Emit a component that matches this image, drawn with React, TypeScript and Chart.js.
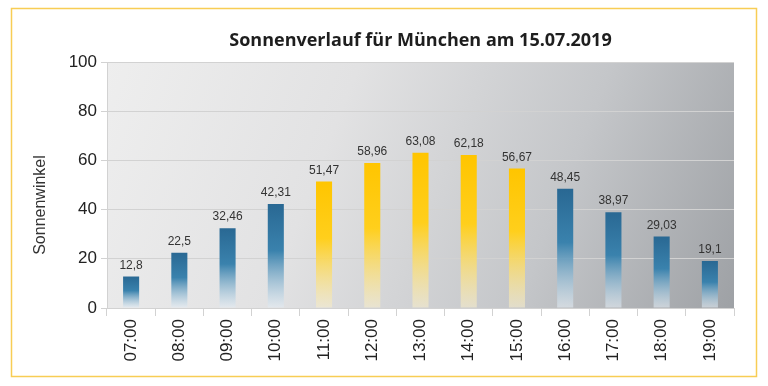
import React, { useEffect, useRef } from "react";
import { Chart, registerables } from "chart.js";

Chart.register(...registerables);

const categories = ["07:00", "08:00", "09:00", "10:00", "11:00", "12:00", "13:00", "14:00", "15:00", "16:00", "17:00", "18:00", "19:00"];
const sunAngles = [12.8, 22.5, 32.46, 42.31, 51.47, 58.96, 63.08, 62.18, 56.67, 48.45, 38.97, 29.03, 19.1];
const highlighted = [false, false, false, false, true, true, true, true, true, false, false, false, false];
const yTicks = [0, 20, 40, 60, 80, 100];
const titleText = "Sonnenverlauf für München am 15.07.2019";
const yAxisTitle = "Sonnenwinkel";

const FONT = "'Liberation Sans', Arial, sans-serif";

export default function App() {
  const ref = useRef<HTMLCanvasElement | null>(null);

  useEffect(() => {
    if (!ref.current) return;

    const bgPlugin = {
      id: "bgPlugin",
      beforeDraw(chart: any) {
        const { ctx, chartArea: a } = chart;
        ctx.save();
        ctx.fillStyle = "#ffffff";
        ctx.fillRect(0, 0, chart.width, chart.height);
        const g = ctx.createLinearGradient(a.left, a.top, a.right, a.bottom);
        g.addColorStop(0, "#eeeeee");
        g.addColorStop(0.35, "#e2e2e3");
        g.addColorStop(0.7, "#c4c6c9");
        g.addColorStop(1, "#9ea1a5");
        ctx.fillStyle = g;
        ctx.fillRect(a.left, a.top, a.right - a.left, a.bottom - a.top);
        ctx.restore();
      },
      afterDraw(chart: any) {
        const { ctx, chartArea: a } = chart;
        ctx.save();
        // frame
        ctx.strokeStyle = "#f8cd55";
        ctx.lineWidth = 1.5;
        ctx.strokeRect(11.5, 8.5, 745, 368);
        // title
        ctx.fillStyle = "#1e1e1e";
        ctx.font = "bold 18px 'Open Sans', 'Noto Sans', sans-serif";
        ctx.textAlign = "center";
        ctx.textBaseline = "middle";
        ctx.fillText(titleText, (a.left + a.right) / 2, 41);
        // y axis title
        ctx.translate(41, 205);
        ctx.rotate(-Math.PI / 2);
        ctx.font = "16px " + FONT;
        ctx.fillStyle = "#333333";
        ctx.fillText(yAxisTitle, 0, 0);
        ctx.restore();
      },
      afterDatasetsDraw(chart: any) {
        const { ctx } = chart;
        const meta = chart.getDatasetMeta(0);
        ctx.save();
        ctx.font = "12px " + FONT;
        ctx.fillStyle = "#333333";
        ctx.textAlign = "center";
        ctx.textBaseline = "bottom";
        meta.data.forEach((bar: any, i: number) => {
          ctx.fillText(String(sunAngles[i]).replace(".", ","), bar.x, bar.y - 5);
        });
        ctx.restore();
      },
    };

    const chart = new Chart(ref.current, {
      type: "bar",
      data: {
        labels: categories,
        datasets: [
          {
            data: sunAngles,
            barPercentage: 0.333,
            categoryPercentage: 1,
            borderWidth: 0,
            backgroundColor: (c: any) => {
              const ch = c.chart;
              const i = c.dataIndex;
              const yel = highlighted[i];
              if (!ch.chartArea || i === undefined) return yel ? "#ffc800" : "#2b6c97";
              const ys = ch.scales.y;
              const top = ys.getPixelForValue(sunAngles[i]);
              const bottom = ys.getPixelForValue(0);
              const g = ch.ctx.createLinearGradient(0, top, 0, bottom);
              if (yel) {
                g.addColorStop(0, "#ffc500");
                g.addColorStop(0.45, "#ffcf1c");
                g.addColorStop(1, "rgba(245,236,205,0.6)");
              } else {
                g.addColorStop(0, "#296893");
                g.addColorStop(0.45, "#3a82ad");
                g.addColorStop(1, "rgba(228,236,243,0.6)");
              }
              return g;
            },
          },
        ],
      },
      options: {
        responsive: false,
        animation: false,
        layout: { padding: { left: 0, right: 34, top: 62, bottom: 0 } },
        plugins: {
          legend: { display: false },
          title: { display: false },
          tooltip: { enabled: false },
        },
        scales: {
          x: {
            offset: true,
            grid: {
              offset: true,
              drawOnChartArea: false,
              tickLength: 8,
              color: "#d2d2d2",
            },
            border: { color: "#d2d2d2" },
            ticks: {
              minRotation: 90,
              maxRotation: 90,
              padding: 3,
              color: "#222222",
              font: { family: FONT, size: 17 },
            },
            afterFit: (s: any) => {
              s.height = 78;
            },
          },
          y: {
            min: 0,
            max: 100,
            afterBuildTicks: (s: any) => {
              s.ticks = yTicks.map((v) => ({ value: v }));
            },
            grid: { color: "#d2d2d2", tickLength: 6 },
            border: { color: "#d2d2d2" },
            ticks: {
              padding: 4,
              color: "#222222",
              font: { family: FONT, size: 17 },
            },
            afterFit: (s: any) => {
              s.width = 107;
            },
          },
        },
      },
      plugins: [bgPlugin],
    });

    return () => chart.destroy();
  }, []);

  return (
    <div style={{ position: "absolute", left: 0, top: 0, width: 768, height: 386 }}>
      <canvas ref={ref} width={768} height={386} />
    </div>
  );
}
